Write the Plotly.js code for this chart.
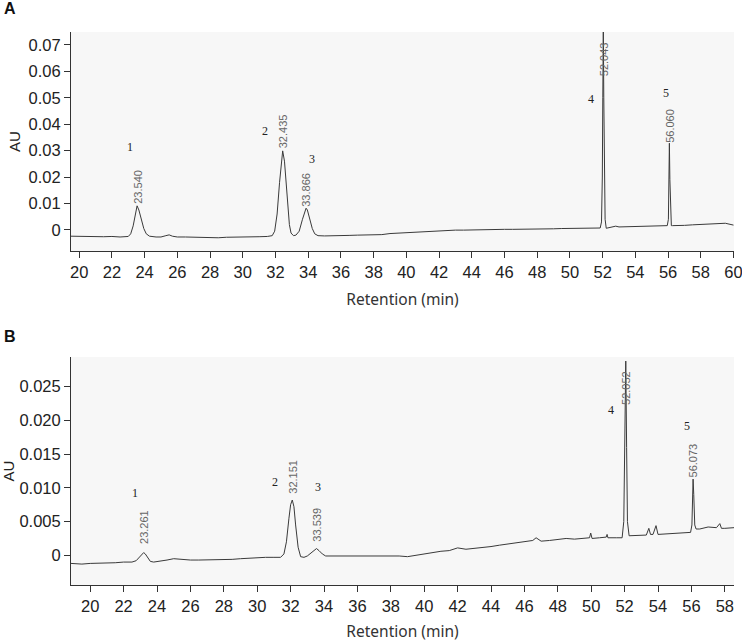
<!DOCTYPE html>
<html>
<head>
<meta charset="utf-8">
<script src="https://cdn.plot.ly/plotly-3.0.1.min.js"></script>
<style>
  html, body { margin: 0; padding: 0; background: #fff; }
  #chart { width: 742px; height: 642px; }
</style>
</head>
<body>
<div id="chart"></div>
<script>
// Panel A chromatogram (min, AU)
const timeA = [
  19.5, 20.0, 20.5, 21.0, 21.5, 22.0, 22.5, 23.0, 23.15, 23.3, 23.45, 23.54, 23.65, 23.8, 23.95, 24.1, 24.3, 24.7,
  25.0, 25.3, 25.5, 25.7, 26.0, 26.5, 27.0, 27.5, 28.0, 28.5, 29.0, 29.5, 30.0, 30.5, 31.0, 31.5, 31.8, 31.95,
  32.1, 32.25, 32.35, 32.44, 32.55, 32.65, 32.75, 32.85, 32.95, 33.1, 33.25, 33.45, 33.65, 33.8, 33.87, 33.95,
  34.1, 34.25, 34.4, 34.6, 35.0, 35.5, 36.0, 36.5, 37.0, 37.5, 38.0, 38.5, 39.0, 39.5, 40.0, 40.5, 41.0, 41.5,
  42.0, 42.5, 43.0, 43.5, 44.0, 44.5, 45.0, 45.5, 46.0, 46.5, 47.0, 47.5, 48.0, 48.5, 49.0, 49.5, 50.0, 50.5,
  51.0, 51.5, 51.85, 51.93, 51.98, 52.01, 52.04, 52.07, 52.1, 52.15, 52.22, 52.5, 52.8, 53.0, 53.5, 54.0, 54.5,
  55.0, 55.5, 55.95, 56.02, 56.05, 56.08, 56.11, 56.15, 56.2, 56.27, 56.5, 57.0, 57.5, 58.0, 58.5, 59.0, 59.5, 60.0
];
const signalA = [
  -0.0024, -0.0025, -0.0024, -0.0025, -0.0026, -0.0025, -0.0027, -0.0025, -0.0015, 0.0015, 0.0065, 0.0091, 0.0075, 0.0035, 0.0005, -0.0015, -0.0024, -0.0027,
  -0.0027, -0.0022, -0.0019, -0.0024, -0.0027, -0.0027, -0.0028, -0.0029, -0.0029, -0.0030, -0.0028, -0.0028, -0.0027, -0.0027, -0.0026, -0.0025, -0.0022, -0.0005,
  0.006, 0.018, 0.026, 0.0299, 0.026, 0.017, 0.008, 0.002, -0.0012, -0.0022, -0.0020, -0.0005, 0.004, 0.0072, 0.0082, 0.0075,
  0.004, 0.0005, -0.0015, -0.0022, -0.0023, -0.0023, -0.0022, -0.0021, -0.0020, -0.0019, -0.0017, -0.0018, -0.0014, -0.0012, -0.0010, -0.0009, -0.0007, -0.0005,
  -0.0003, -0.0001, -0.0001, -0.0001, 0.0000, 0.0000, 0.0001, 0.0001, 0.0002, 0.0002, 0.0002, 0.0003, 0.0004, 0.0004, 0.0004, 0.0005, 0.0005, 0.0005,
  0.0006, 0.0007, 0.0007, 0.003, 0.02, 0.05, 0.077, 0.05, 0.02, 0.004, 0.0006, 0.0009, 0.0014, 0.0011, 0.0012, 0.0013, 0.0014,
  0.0015, 0.0016, 0.0016, 0.004, 0.018, 0.0328, 0.019, 0.004, 0.0016, 0.0016, 0.0016, 0.0017, 0.0019, 0.0020, 0.0021, 0.0022, 0.0025, 0.0018
];

// Panel B chromatogram
const timeB = [
  18.85, 19.5, 20.0, 20.5, 21.0, 21.5, 22.0, 22.5, 22.75, 22.95, 23.1, 23.2, 23.3, 23.45, 23.6, 23.8, 24.2, 24.6,
  25.0, 25.4, 26.0, 26.5, 27.0, 27.5, 28.0, 28.5, 29.0, 29.5, 30.0, 30.5, 31.0, 31.4, 31.6, 31.75, 31.9, 32.0,
  32.1, 32.2, 32.3, 32.45, 32.6, 32.8, 33.0, 33.2, 33.4, 33.55, 33.7, 33.9, 34.1, 34.5, 35.0, 35.5, 36.0, 36.5,
  37.0, 37.5, 38.0, 38.5, 39.0, 39.5, 40.0, 40.5, 41.0, 41.5, 42.0, 42.5, 43.0, 43.5, 44.0, 44.5, 45.0, 45.5,
  46.0, 46.5, 46.7, 47.0, 47.5, 48.0, 48.5, 49.0, 49.5, 49.9, 49.97, 50.05, 50.5, 50.9, 50.95, 51.0, 51.5, 51.85,
  51.95, 52.01, 52.07, 52.12, 52.17, 52.27, 52.6, 53.0, 53.3, 53.45, 53.55, 53.7, 53.88, 54.0, 54.5, 55.0, 55.5,
  55.95, 56.03, 56.07, 56.1, 56.14, 56.2, 56.28, 56.5, 57.0, 57.5, 57.7, 57.8, 58.0, 58.55
];
const signalB = [
  -0.0012, -0.0013, -0.0012, -0.0012, -0.0011, -0.0011, -0.0010, -0.0010, -0.0008, -0.0003, 0.0002, 0.0004, 0.0002, -0.0004, -0.0009, -0.0010, -0.0009, -0.0007,
  -0.0005, -0.0006, -0.0007, -0.0007, -0.0007, -0.0006, -0.0006, -0.0006, -0.0005, -0.0004, -0.0004, -0.0003, -0.0003, -0.0003, 0.0002, 0.0020, 0.0055, 0.0075,
  0.0082, 0.0072, 0.0045, 0.0012, -0.0002, -0.0003, -0.0001, 0.0003, 0.0008, 0.0010, 0.0007, 0.0002, -0.0001, -0.0001, -0.0001, 0.0000, 0.0000, 0.0000,
  0.0000, 0.0000, 0.0000, -0.0001, -0.0002, 0.0000, 0.0003, 0.0005, 0.0006, 0.0007, 0.0011, 0.0009, 0.0010, 0.0012, 0.0013, 0.0015, 0.0017, 0.0019,
  0.0020, 0.0022, 0.0026, 0.0021, 0.0022, 0.0023, 0.0025, 0.0024, 0.0025, 0.0026, 0.0033, 0.0025, 0.0026, 0.0027, 0.0031, 0.0026, 0.0026, 0.0026,
  0.005, 0.016, 0.0288, 0.016, 0.005, 0.0029, 0.0029, 0.0030, 0.0030, 0.0040, 0.0031, 0.0031, 0.0044, 0.0031, 0.0032, 0.0033, 0.0034,
  0.0034, 0.0045, 0.0095, 0.0113, 0.0090, 0.0045, 0.0039, 0.0039, 0.0042, 0.0041, 0.0047, 0.0040, 0.0040, 0.0041
];

// Peak numbers and retention time labels
const peakNums = ['1', '2', '3', '4', '5'];
const peakNumXA = [23.11, 31.37, 34.22, 51.26, 55.85];
const peakNumYA = [0.0314, 0.0375, 0.0269, 0.0496, 0.0518];
const rtTextA = ['23.540', '32.435', '33.866', '52.043', '56.060'];
const rtXA = [23.55, 32.44, 33.87, 52.1, 56.12];
const rtYA = [0.0164, 0.0372, 0.0152, 0.0647, 0.0394];

const peakNumXB = [22.68, 31.07, 33.66, 51.17, 55.71];
const peakNumYB = [0.0092, 0.0108, 0.0101, 0.0215, 0.0192];
const rtTextB = ['23.261', '32.151', '33.539', '52.052', '56.073'];
const rtXB = [23.22, 32.16, 33.56, 52.08, 56.11];
const rtYB = [0.0042, 0.0117, 0.0045, 0.0248, 0.0141];

const xTicksA = [20, 22, 24, 26, 28, 30, 32, 34, 36, 38, 40, 42, 44, 46, 48, 50, 52, 54, 56, 58, 60];
const xTicksB = [20, 22, 24, 26, 28, 30, 32, 34, 36, 38, 40, 42, 44, 46, 48, 50, 52, 54, 56, 58];
const yTicksA = [0, 0.01, 0.02, 0.03, 0.04, 0.05, 0.06, 0.07];
const yTickTextA = ['0', '0.01', '0.02', '0.03', '0.04', '0.05', '0.06', '0.07'];
const yTicksB = [0, 0.005, 0.010, 0.015, 0.020, 0.025];
const yTickTextB = ['0', '0.005', '0.010', '0.015', '0.020', '0.025'];

const tickFont = { family: 'Liberation Sans, Arial, sans-serif', size: 16.5, color: '#222' };
const auFont = { family: 'Liberation Sans, Arial, sans-serif', size: 15, color: '#222' };
const titleFont = { family: 'Noto Sans, sans-serif', size: 15.5, color: '#333' };

const lineStyle = { color: '#3a3a3a', width: 1 };

const traces = [
  { x: timeA, y: signalA, type: 'scatter', mode: 'lines', line: lineStyle, xaxis: 'x', yaxis: 'y', hoverinfo: 'x+y' },
  { x: timeB, y: signalB, type: 'scatter', mode: 'lines', line: lineStyle, xaxis: 'x2', yaxis: 'y2', hoverinfo: 'x+y' },
];

function peakAnnotations(numX, numY, rtX, rtY, rtText, xref, yref) {
  const out = [];
  peakNums.forEach((n, i) => {
    out.push({
      x: numX[i], y: numY[i], xref, yref, text: n, showarrow: false,
      font: { family: 'Liberation Serif, Times New Roman, serif', size: 12, color: '#222' },
    });
    out.push({
      x: rtX[i], y: rtY[i], xref, yref, text: rtText[i], showarrow: false, textangle: -90,
      font: { family: 'Liberation Sans, Arial, sans-serif', size: 11, color: '#666' },
    });
  });
  return out;
}

const axisBase = {
  showline: true,
  linecolor: '#333',
  linewidth: 1,
  ticks: 'outside',
  ticklen: 6,
  tickcolor: '#333',
  showgrid: false,
  zeroline: false,
  tickfont: tickFont,
};

const layout = {
  width: 742,
  height: 642,
  margin: { l: 71, r: 8, t: 32, b: 57 },
  paper_bgcolor: '#ffffff',
  plot_bgcolor: '#f7f7f7',
  showlegend: false,
  xaxis: Object.assign({}, axisBase, {
    domain: [0, 1], anchor: 'y', range: [19.5, 60.03], tickvals: xTicksA,
    ticklabeloverflow: 'allow',
    title: { text: 'Retention (min)', font: titleFont, standoff: 14 },
  }),
  yaxis: Object.assign({}, axisBase, {
    domain: [0.604, 1], anchor: 'x', range: [-0.008, 0.0749],
    tickvals: yTicksA, ticktext: yTickTextA,
    title: { text: 'AU', font: auFont, standoff: 4 },
  }),
  xaxis2: Object.assign({}, axisBase, {
    domain: [0, 1], anchor: 'y2', range: [18.85, 58.55], tickvals: xTicksB,
    ticklabeloverflow: 'allow',
    title: { text: 'Retention (min)', font: titleFont, standoff: 14 },
  }),
  yaxis2: Object.assign({}, axisBase, {
    domain: [0, 0.4123], anchor: 'x2', range: [-0.0044, 0.0294],
    tickvals: yTicksB, ticktext: yTickTextB,
    title: { text: 'AU', font: auFont, standoff: 4 },
  }),
  annotations: [
    { xref: 'paper', yref: 'paper', x: -0.104, y: 1.042, xanchor: 'left', yanchor: 'middle', showarrow: false,
      text: '<b>A</b>', font: { family: 'Liberation Sans, Arial, sans-serif', size: 16, color: '#111' } },
    { xref: 'paper', yref: 'paper', x: -0.104, y: 0.4485, xanchor: 'left', yanchor: 'middle', showarrow: false,
      text: '<b>B</b>', font: { family: 'Liberation Sans, Arial, sans-serif', size: 16, color: '#111' } },
  ]
    .concat(peakAnnotations(peakNumXA, peakNumYA, rtXA, rtYA, rtTextA, 'x', 'y'))
    .concat(peakAnnotations(peakNumXB, peakNumYB, rtXB, rtYB, rtTextB, 'x2', 'y2')),
};

Plotly.newPlot('chart', traces, layout, { displayModeBar: false, staticPlot: true });
</script>
</body>
</html>
